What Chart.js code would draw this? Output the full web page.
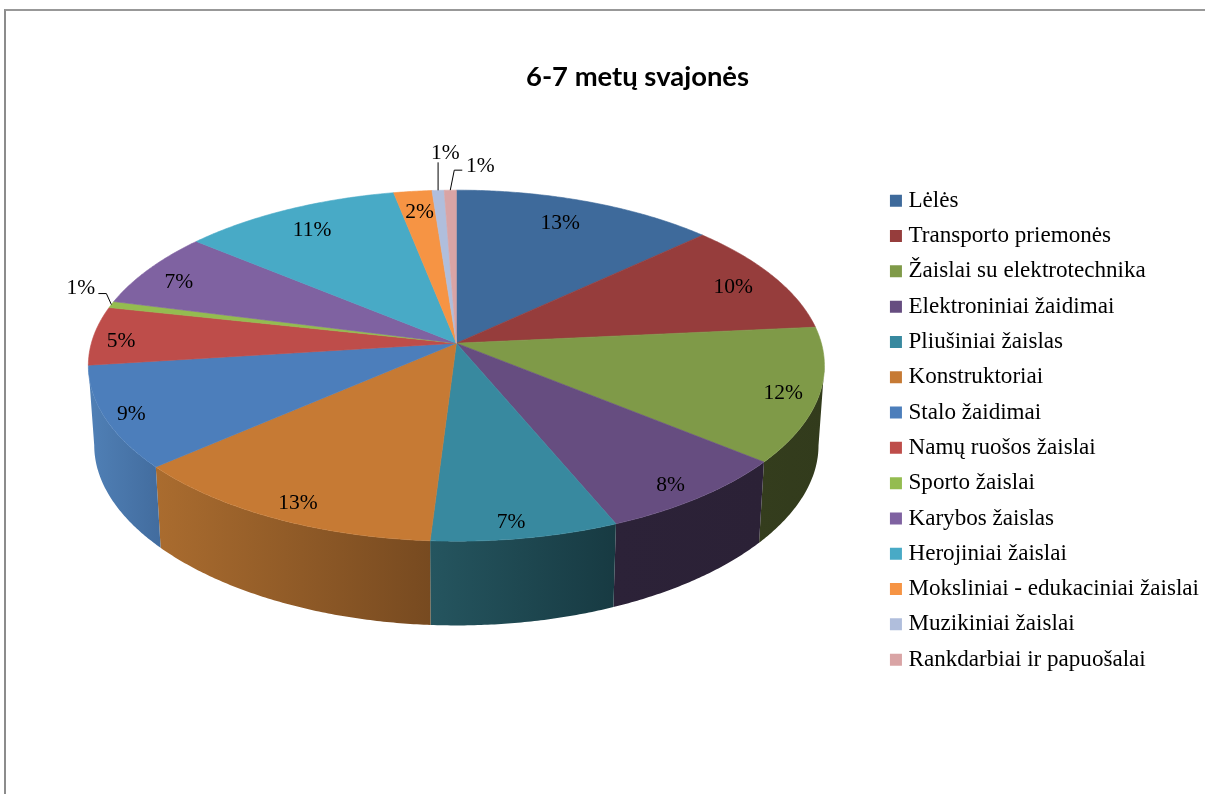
<!DOCTYPE html>
<html>
<head>
<meta charset="utf-8">
<title>6-7 metų svajonės</title>
<script src="https://cdn.jsdelivr.net/npm/chart.js@4"></script>
<style>
  html, body { margin: 0; background: #fff; overflow: hidden; }
  #frame { position: absolute; left: 4px; top: 9px; right: 0; bottom: 0; border-top: 2px solid #989898; border-left: 2px solid #8c8c8c; }
  canvas { position: absolute; left: 0; top: 0; }
</style>
</head>
<body>
<div id="frame"></div>
<canvas id="pie" width="1205" height="794"></canvas>
<script>
const categories = ['Lėlės', 'Transporto priemonės', 'Žaislai su elektrotechnika', 'Elektroniniai žaidimai',
  'Pliušiniai žaislas', 'Konstruktoriai', 'Stalo žaidimai', 'Namų ruošos žaislai', 'Sporto žaislai',
  'Karybos žaislas', 'Herojiniai žaislai', 'Moksliniai - edukaciniai žaislai', 'Muzikiniai žaislai',
  'Rankdarbiai ir papuošalai']
const shares = [13.1, 10.4, 12.4, 7.8, 7.3, 12.6, 9.4, 5.4, 0.6, 7.0, 10.9, 1.9, 0.6, 0.6]

const topColors = ['#3e6a9b', '#963d3c', '#7f9a48', '#664d80', '#38899f', '#c67a34', '#4c7ebb', '#be4d4a',
  '#94bc50', '#7f62a1', '#48aac6', '#f69444', '#b0bedc', '#d9a4a5']
// wall colour at the left and right end of each slice, the back ones are never seen
const wallColors = [['#2a4868', '#2a4868'], ['#652928', '#652928'], ['#343d1d', '#323b1c'], ['#2c2238', '#2b2136'],
  ['#25555f', '#173a42'], ['#aa6c2f', '#774a20'], ['#5080b6', '#426c9e'], ['#7f3331', '#7f3331'],
  ['#627c35', '#627c35'], ['#55416b', '#55416b'], ['#307284', '#307284'], ['#a4622c', '#a4622c'],
  ['#757e92', '#757e92'], ['#906d6d', '#906d6d']]

// label offset from the default spot on the slice
const labelNudge = [[-3, -4], [21, -2], [39, 9], [24, 22], [1, 28], [-16, 24], [-47, 12], [-45, 4], [-98, -24],
  [-29, -1], [-7, -4], [-1, -7], [4, -65], [29, -52]]
// leader lines, offsets from the rim: slice, elbow, tail
const leaders = [[8, [-5, -11], [-13, -11]], [12, [0, -28], [0, -28]], [13, [4, -20], [12, -20]]]

const shiftX = -18, shiftY = -87    // pie centre relative to the chart area centre
const squash = 0.473                // ellipse height / width
const persp = 0.128                 // front of the pie is nearer than the back
const wallDrop = 80, wallScale = 0.984, wallPersp = 0.16
const labelFont = '21.5px "Liberation Serif"'

function project(arc, angle, r, low) {
  const u = Math.sin(angle + Math.PI / 2), v = -Math.cos(angle + Math.PI / 2)
  const w = 1 - persp * r * v
  const s = low ? wallScale : 1
  const wy = low ? 1 - wallPersp * r * v : w
  return {
    x: arc.x + shiftX + arc.outerRadius * s * r * u / w,
    y: arc.y + shiftY + (low ? wallDrop : 0) + arc.outerRadius * squash * s * r * v / wy,
  }
}

function rimPoints(arc, from, to, low) {
  const n = Math.max(2, Math.ceil(Math.abs(to - from) * 120))
  const pts = []
  for (let k = 0; k <= n; k++) pts.push(project(arc, from + (to - from) * k / n, 1, low))
  return pts
}

function tracePath(ctx, pts) {
  ctx.beginPath()
  pts.forEach((p, k) => k ? ctx.lineTo(p.x, p.y) : ctx.moveTo(p.x, p.y))
  ctx.closePath()
}

const pie3d = {
  id: 'pie3d',
  beforeDatasetsDraw(chart) {
    const ctx = chart.ctx
    const arcs = chart.getDatasetMeta(0).data
    ctx.save()

    // walls, only the front part of the rim that the camera sees
    const wallFrom = Math.acos(-persp) - Math.PI / 2
    const wallTo = 1.5 * Math.PI - Math.acos(-persp)
    arcs.forEach((arc, i) => {
      const from = Math.max(arc.startAngle, wallFrom)
      const to = Math.min(arc.endAngle, wallTo)
      if (to <= from) return
      const top = rimPoints(arc, from, to, false)
      const low = rimPoints(arc, from, to, true)
      const xs = top.concat(low).map(p => p.x)
      const grad = ctx.createLinearGradient(Math.min(...xs), 0, Math.max(...xs), 0)
      grad.addColorStop(0, wallColors[i][0])
      grad.addColorStop(1, wallColors[i][1])
      tracePath(ctx, top.concat(low.reverse()))
      ctx.fillStyle = grad
      ctx.fill()
    })

    // top face
    arcs.forEach((arc, i) => {
      const c = project(arc, 0, 0, false)
      tracePath(ctx, [c].concat(rimPoints(arc, arc.startAngle, arc.endAngle, false)))
      ctx.fillStyle = topColors[i]
      ctx.strokeStyle = topColors[i]
      ctx.lineWidth = 0.6
      ctx.fill()
      ctx.stroke()
    })

    // leaders
    ctx.strokeStyle = '#000'
    ctx.lineWidth = 1
    leaders.forEach(([i, elbow, tail]) => {
      const arc = arcs[i]
      const rim = project(arc, (arc.startAngle + arc.endAngle) / 2, 1, false)
      ctx.beginPath()
      ctx.moveTo(rim.x, rim.y)
      ctx.lineTo(rim.x + elbow[0], rim.y + elbow[1])
      ctx.lineTo(rim.x + tail[0], rim.y + tail[1])
      ctx.stroke()
    })

    // percent labels
    ctx.fillStyle = '#000'
    ctx.font = labelFont
    ctx.textAlign = 'center'
    ctx.textBaseline = 'middle'
    arcs.forEach((arc, i) => {
      const p = project(arc, (arc.startAngle + arc.endAngle) / 2, 0.8, false)
      ctx.fillText(Math.round(shares[i]) + '%', p.x + labelNudge[i][0], p.y + labelNudge[i][1])
    })
    ctx.restore()
    return false
  },
}

new Chart(document.getElementById('pie'), {
  type: 'pie',
  data: {
    labels: categories,
    datasets: [{ data: shares, backgroundColor: topColors, borderWidth: 0 }],
  },
  plugins: [pie3d],
  options: {
    responsive: false,
    animation: false,
    radius: 365,
    events: [],
    layout: { padding: { left: 66, right: -4, top: 0, bottom: 36 } },
    plugins: {
      tooltip: { enabled: false },
      title: {
        display: true,
        text: '6-7 metų svajonės',
        color: '#000',
        font: { family: 'Lato', size: 27.4, weight: 'bold', lineHeight: 1.2 },
        padding: { top: 60.5, bottom: 9 },
      },
      legend: {
        position: 'right',
        fullSize: false,
        labels: {
          color: '#000',
          font: { family: 'Liberation Serif', size: 23.1 },
          padding: 12.2,
          // 2px box plus a 10px stroke: a 12px square that sits closer to the text
          boxWidth: 2,
          boxHeight: 2,
          generateLabels: chart => categories.map((name, i) => ({
            text: name,
            fillStyle: topColors[i],
            strokeStyle: topColors[i],
            lineWidth: 10,
            fontColor: '#000',
            index: i,
          })),
        },
      },
    },
  },
})
</script>
</body>
</html>
